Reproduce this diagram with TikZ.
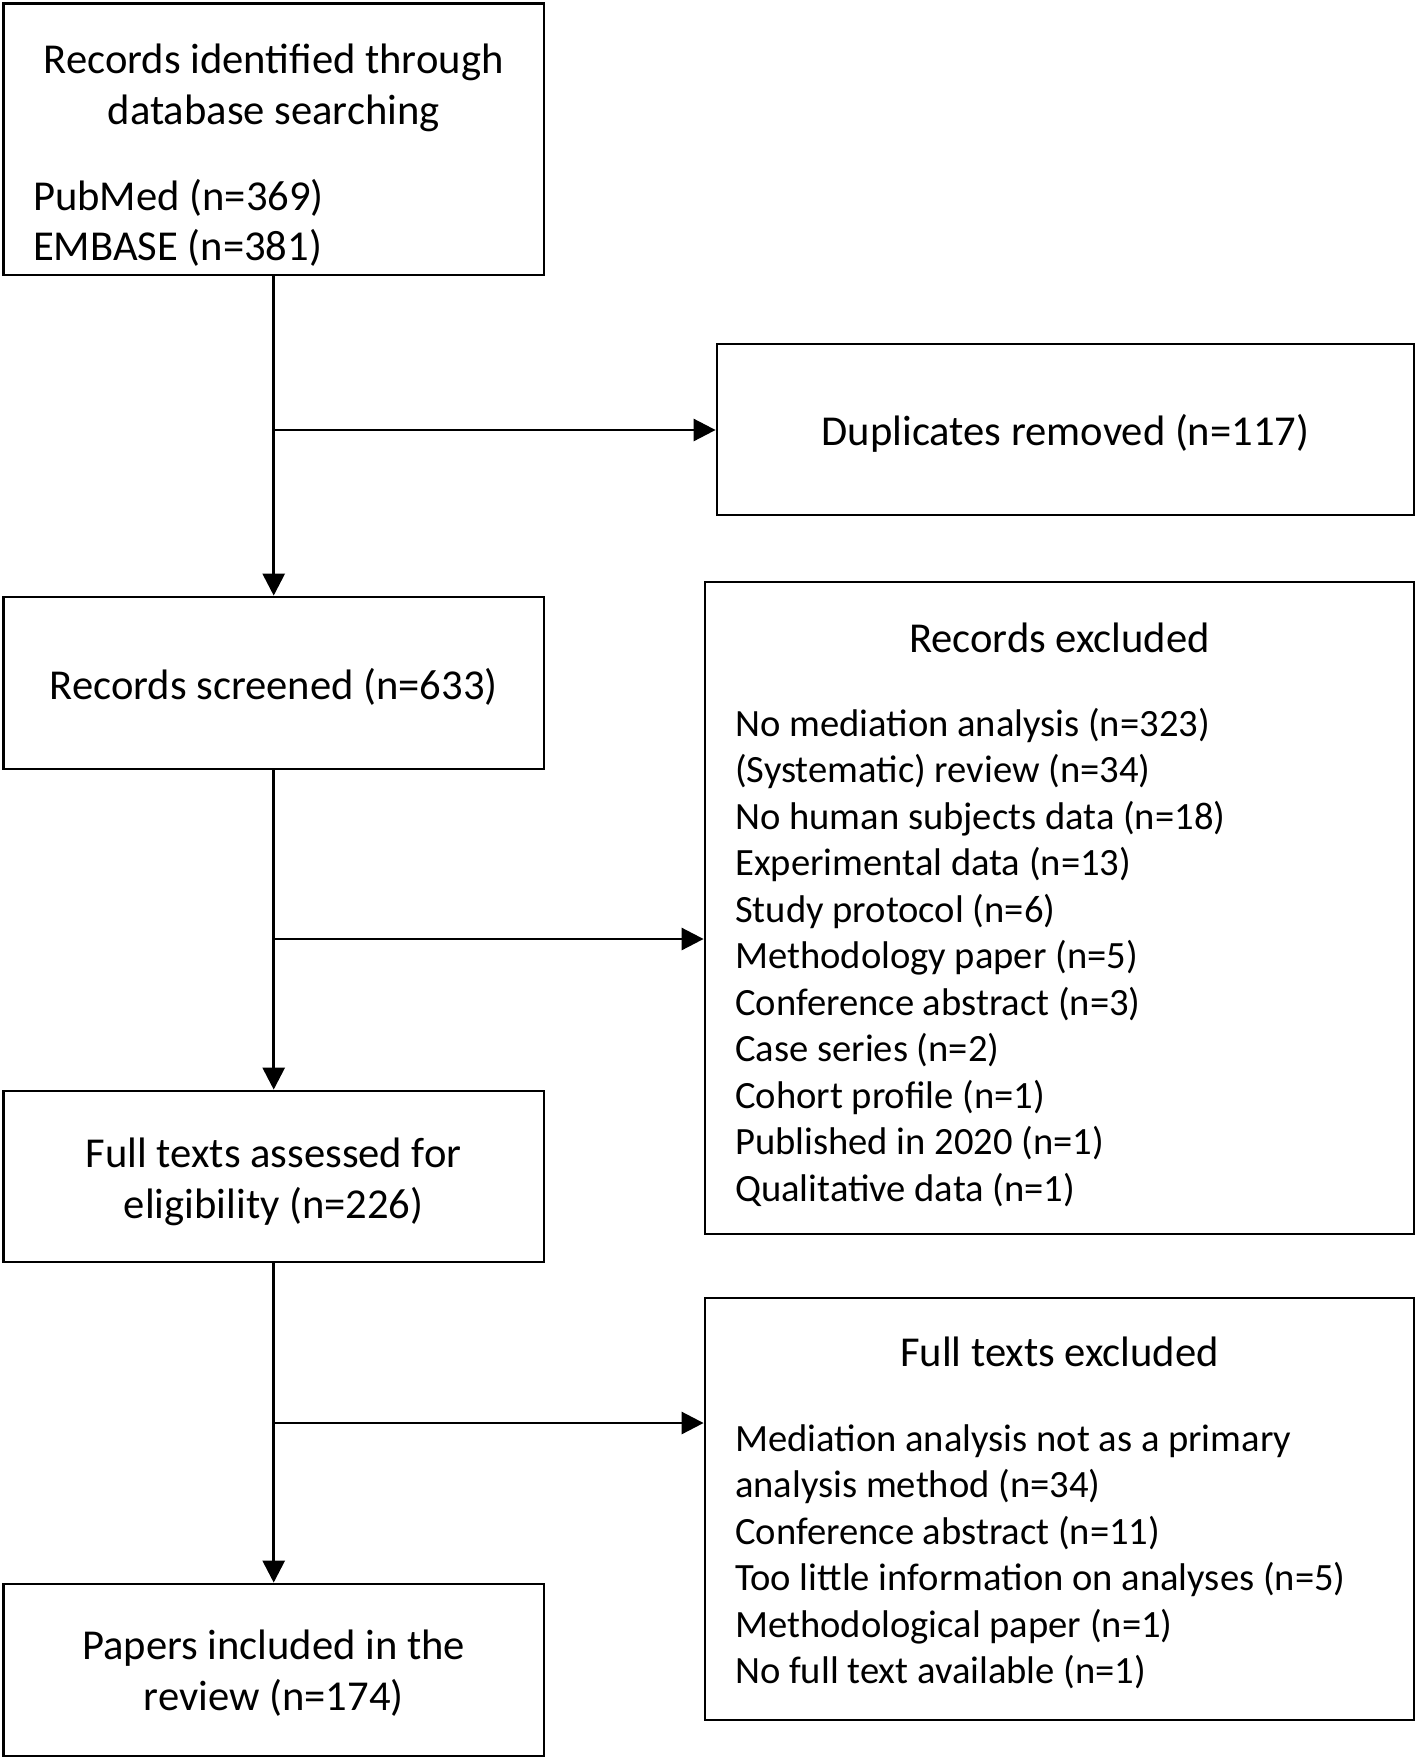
\documentclass[tikz,border=0pt]{standalone}
\usepackage{fontspec}
\setmainfont{Carlito}
\usetikzlibrary{arrows.meta}
\begin{document}
\begin{tikzpicture}[x=1pt,y=-1pt,
  box/.style={draw, line width=2.8pt, inner sep=0pt},
  conn/.style={line width=2.8pt, -{Triangle[length=22pt,width=22pt]}},
  txt/.style={inner sep=0pt, align=center, font=\fontsize{42.6}{51}\selectfont},
  ltxt/.style={inner sep=0pt, anchor=mid west, font=\fontsize{38.6}{46}\selectfont}]
\useasboundingbox (0,0) rectangle (1416,1759);
\fill[white] (0,0) rectangle (1416,1759);
% boxes
\node[box, minimum width=540.6pt, minimum height=271.6pt] (ident) at (273.7,139.2) {};
\node[box, minimum width=697pt, minimum height=171pt] (dup) at (1065.5,429.5) {};
\node[box, minimum width=540.6pt, minimum height=172pt] (screened) at (273.7,683) {};
\node[box, minimum width=709pt, minimum height=652pt] (excl) at (1059.5,908) {};
\node[box, minimum width=540.6pt, minimum height=171pt] (assessed) at (273.7,1176.5) {};
\node[box, minimum width=709pt, minimum height=422pt] (ftexcl) at (1059.5,1509) {};
\node[box, minimum width=540.6pt, minimum height=172pt] (papers) at (273.7,1670) {};
% box texts
\node[txt, yshift=-3.5pt] (dupT) at (dup.center) {Duplicates removed (n=117)};
\node[txt, yshift=-3.5pt] (scrT) at (screened.center) {Records screened (n=633)};
\node[txt, yshift=-5pt] (assT) at (assessed.center) {Full texts assessed for\\eligibility (n=226)};
\node[txt, yshift=-3.5pt] (papT) at (papers.center) {Papers included in the\\review (n=174)};
% texts in first box
\node[txt] (id1) at (273.7,62.5) {Records identified through};
\node[txt] (id2) at (273.7,113.5) {database searching};
\node[txt, anchor=mid west] (pm) at (33,208.5) {PubMed (n=369)};
\node[txt, anchor=mid west] (em) at (33,258.5) {EMBASE (n=381)};
% records excluded
\node[txt] (exT) at (1059.5,638) {Records excluded};
\foreach \t [count=\i from 0] in {{No mediation analysis (n=323)},{(Systematic) review (n=34)},{No human subjects data (n=18)},{Experimental data (n=13)},{Study protocol (n=6)},{Methodology paper (n=5)},{Conference abstract (n=3)},{Case series (n=2)},{Cohort profile (n=1)},{Published in 2020 (n=1)},{Qualitative data (n=1)}}
  \node[ltxt] (ex\i) at (735,734+46.5*\i) {\t};
% full texts excluded
\node[txt] (ftT) at (1059.5,1352) {Full texts excluded};
\foreach \t [count=\i from 0] in {{Mediation analysis not as a primary},{analysis method (n=34)},{Conference abstract (n=11)},{Too little information on analyses (n=5)},{Methodological paper (n=1)},{No full text available (n=1)}}
  \node[ltxt] (ft\i) at (735,1449+46.4*\i) {\t};
% connectors
\coordinate (j1) at (273.7,430);
\coordinate (j2) at (273.7,939);
\coordinate (j3) at (273.7,1423);
\draw[conn] (ident.south) -- (screened.north);
\draw[conn] (screened.south) -- (assessed.north);
\draw[conn] (assessed.south) -- (papers.north);
\draw[conn] (j1) -- (j1 -| dup.west);
\draw[conn] (j2) -- (j2 -| excl.west);
\draw[conn] (j3) -- (j3 -| ftexcl.west);
\end{tikzpicture}
\end{document}
